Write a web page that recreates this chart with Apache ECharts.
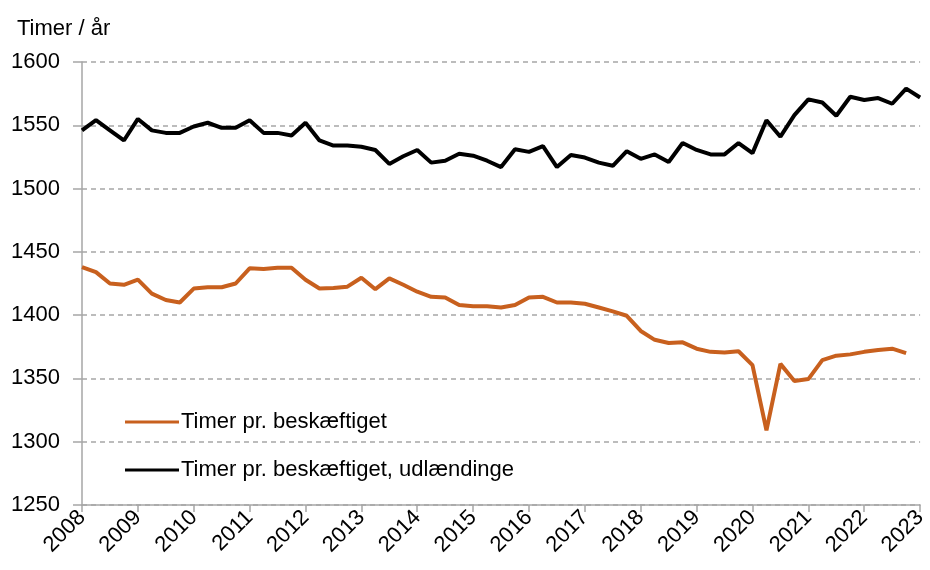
<!DOCTYPE html>
<html>
<head>
<meta charset="utf-8">
<script src="https://cdn.jsdelivr.net/npm/echarts@6/dist/echarts.min.js"></script>
<style>
    html, body { margin: 0; padding: 0; background: #fff; }
    #chart { width: 930px; height: 570px; }
</style>
</head>
<body>
<div id="chart"></div>
<script>
// år og kvartaler
const years = ['2008', '2009', '2010', '2011', '2012', '2013', '2014', '2015',
    '2016', '2017', '2018', '2019', '2020', '2021', '2022', '2023'];
const quarters = ['K1', 'K2', 'K3', 'K4'];

// Timer pr. beskæftiget (2008K1 - 2022K4)
const timerAlle = [
    1438, 1434, 1425, 1424, 1428, 1417, 1412, 1410,
    1421, 1422, 1422, 1425, 1437, 1436.5, 1437.5, 1437.5,
    1428, 1421, 1421.5, 1422.5, 1429.5, 1420.5, 1429, 1424,
    1418.5, 1414.5, 1414, 1408, 1407, 1407, 1406, 1408,
    1414, 1414.5, 1410, 1410, 1409, 1406, 1403, 1399.5,
    1387.5, 1380.5, 1378, 1378.5, 1373.5, 1371, 1370.5, 1371.5,
    1360.5, 1309, 1361.5, 1348, 1349.5, 1364.5, 1368, 1369,
    1371, 1372.5, 1373.5, 1370
];

// Timer pr. beskæftiget, udlændinge (2008K1 - 2023K1)
const timerUdl = [
    1546, 1554, 1546, 1538, 1555, 1546, 1544, 1544,
    1549, 1552, 1548, 1548, 1554, 1544, 1544, 1542,
    1552, 1538, 1534, 1534, 1533, 1530.5, 1519.5, 1525.5,
    1530.5, 1520.5, 1522, 1527.5, 1526, 1522, 1517, 1531,
    1529, 1533.5, 1517, 1526.5, 1524.5, 1520.5, 1518, 1529.5,
    1523.5, 1527, 1521, 1536, 1530.5, 1527, 1527, 1536,
    1528, 1554, 1541, 1558, 1570.5, 1568, 1557.5, 1572.5,
    1570, 1571.5, 1567, 1579, 1572
];

const yTicks = { min: 1250, max: 1600, step: 50 };

// kategorier: et punkt pr. kvartal, sidste år kun med første kvartal
let categories = [];
years.forEach((y, i) => {
    if (i === years.length - 1) {
        categories.push(y + quarters[0]);
    } else {
        quarters.forEach(q => categories.push(y + q));
    }
});

const fontName = 'Liberation Sans';
const fontSize = 22;
const gray = '#a6a6a6';

let chart = echarts.init(document.getElementById('chart'));
let option = {
    animation: false,
    textStyle: { fontFamily: fontName, color: '#000' },
    grid: { left: 82, right: 5, top: 62, bottom: 65 },
    title: {
        text: 'Timer / år',
        left: 12,
        top: 13,
        textStyle: { fontFamily: fontName, fontSize: fontSize, fontWeight: 'normal', color: '#000' }
    },
    legend: {
        orient: 'vertical',
        left: 120,
        top: 406,
        itemWidth: 54,
        itemHeight: 3,
        itemGap: 26,
        icon: 'rect',
        textStyle: { fontFamily: fontName, fontSize: fontSize, color: '#000', padding: [0, 0, 0, -3] },
        data: ['Timer pr. beskæftiget', 'Timer pr. beskæftiget, udlændinge']
    },
    xAxis: {
        type: 'category',
        data: categories,
        boundaryGap: false,
        axisLine: { lineStyle: { color: gray, width: 1.5 } },
        axisTick: { interval: 3, length: 7, lineStyle: { color: gray, width: 1.5 } },
        axisLabel: {
            interval: 3,
            rotate: 45,
            margin: 9,
            fontSize: fontSize,
            fontFamily: fontName,
            color: '#000',
            formatter: (v) => v.slice(0, 4)
        }
    },
    yAxis: {
        type: 'value',
        min: yTicks.min,
        max: yTicks.max,
        interval: yTicks.step,
        axisLine: { show: true, lineStyle: { color: gray, width: 1.5 } },
        axisTick: { show: true, length: 9, lineStyle: { color: gray, width: 1.5 } },
        axisLabel: {
            fontSize: fontSize,
            fontFamily: fontName,
            color: '#000',
            margin: 22,
            formatter: (v) => String(v)
        },
        splitLine: { lineStyle: { color: gray, type: [5, 4], width: 1.5 } }
    },
    series: [
        {
            name: 'Timer pr. beskæftiget',
            type: 'line',
            data: timerAlle,
            symbol: 'none',
            itemStyle: { color: '#c8601e' },
            lineStyle: { color: '#c8601e', width: 4 }
        },
        {
            name: 'Timer pr. beskæftiget, udlændinge',
            type: 'line',
            data: timerUdl,
            symbol: 'none',
            itemStyle: { color: '#000' },
            lineStyle: { color: '#000', width: 4 }
        }
    ]
};
chart.setOption(option);
</script>
</body>
</html>
